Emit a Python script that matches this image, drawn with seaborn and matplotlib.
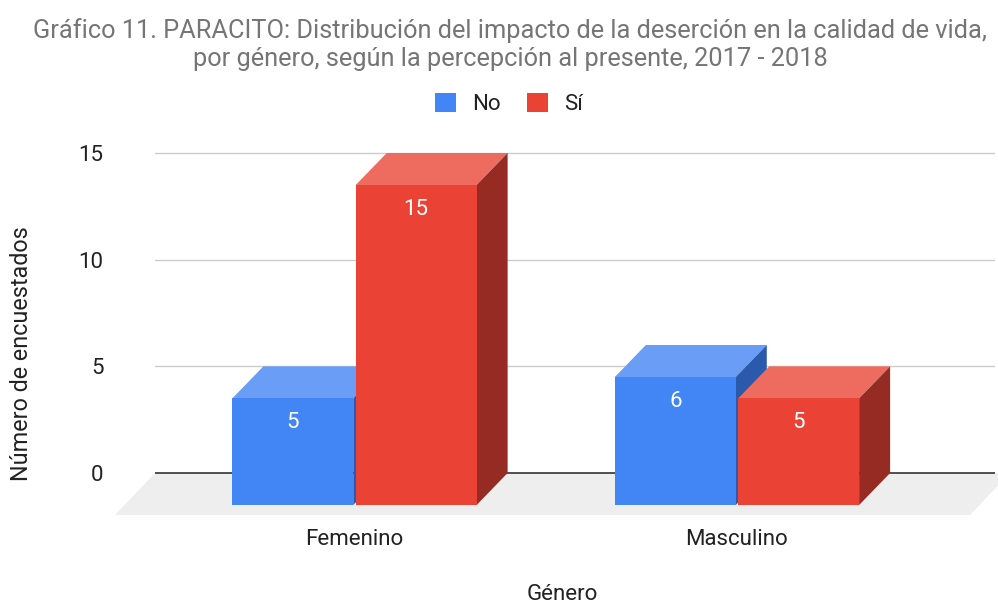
import numpy as np
import pandas as pd
import matplotlib
matplotlib.use('Agg')
import matplotlib.pyplot as plt
from matplotlib.patches import Polygon, Patch
import seaborn as sns

# --- Data ---
generos = ['Femenino', 'Masculino']
respuestas = ['No', 'Sí']
valores_no = [5, 6]
valores_si = [15, 5]
y_ticks = [0, 5, 10, 15]

colores_frente = {'No': '#4285F4', 'Sí': '#EA4335'}
colores_tapa = {'No': '#6A9DF6', 'Sí': '#EE6B60'}
colores_lado = {'No': '#2B59AB', 'Sí': '#962B23'}

df = pd.DataFrame({
    'Género': generos * 2,
    'Respuesta': ['No'] * len(generos) + ['Sí'] * len(generos),
    'Número de encuestados': valores_no + valores_si,
})

# --- Layout (pixels of a 998x603 canvas) ---
W, H = 998, 603
AX_L, AX_R, AX_T, AX_B = 155, 995, 140, 515
CAT0_PX = 354.5        # pixel of the first category (front face)
PX_X = 382.5           # pixels per category unit
PX_Y = 320 / 15        # pixels per count unit
ZERO_PX = 473
DEPTH_X = 31 / PX_X    # 3d depth of the bars
DEPTH_Y = 32 / PX_Y
FLOOR_X = 40 / PX_X
FS = 16

sns.set_style('white')
plt.rcParams['font.family'] = ['Roboto', 'DejaVu Sans']

fig = plt.figure(figsize=(W / 100, H / 100), dpi=100)
ax = fig.add_axes([AX_L / W, 1 - AX_B / H, (AX_R - AX_L) / W, (AX_B - AX_T) / H])

sns.barplot(data=df, x='Género', y='Número de encuestados', hue='Respuesta',
            hue_order=respuestas, palette=colores_frente, width=0.645, gap=0.02,
            saturation=1, legend=False, ax=ax)

x_lo = (AX_L - CAT0_PX) / PX_X
x_hi = (AX_R - CAT0_PX) / PX_X
y_lo = -(AX_B - ZERO_PX) / PX_Y
y_hi = (ZERO_PX - AX_T) / PX_Y
ax.set_xlim(x_lo, x_hi)
ax.set_ylim(y_lo, y_hi)

# floor
floor_front = (x_lo - FLOOR_X, (970 - CAT0_PX) / PX_X)
floor = Polygon([(floor_front[0], y_lo), (floor_front[1], y_lo),
                 (floor_front[1] + FLOOR_X, 0), (floor_front[0] + FLOOR_X, 0)],
                closed=True, facecolor='#EEEEEE', edgecolor='none',
                zorder=0.1, clip_on=False)
ax.add_patch(floor)

# grid lines on back wall
for t in y_ticks:
    ax.axhline(t, color='#333333' if t == 0 else '#CCCCCC', lw=1.2 if t == 0 else 1.0,
               zorder=0.5)

# turn the flat bars into 3d boxes
bars = []
for resp, cont in zip(respuestas, ax.containers):
    for bar, val in zip(cont, cont.datavalues):
        bars.append((bar.get_x(), resp, bar, val))
bars.sort(key=lambda b: b[0])

for i, (x0, resp, bar, val) in enumerate(bars):
    w = bar.get_width()
    bar.set_y(-DEPTH_Y)
    bar.set_height(val)
    bar.set_clip_on(False)
    bar.set_edgecolor('none')
    bar.set_zorder(2 + i * 0.1 + 0.05)
    top = val - DEPTH_Y
    tapa = Polygon([(x0, top), (x0 + w, top), (x0 + w + DEPTH_X, val), (x0 + DEPTH_X, val)],
                   closed=True, facecolor=colores_tapa[resp], edgecolor='none',
                   zorder=2 + i * 0.1, clip_on=False)
    lado = Polygon([(x0 + w, -DEPTH_Y), (x0 + w + DEPTH_X, 0), (x0 + w + DEPTH_X, val), (x0 + w, top)],
                   closed=True, facecolor=colores_lado[resp], edgecolor='none',
                   zorder=2 + i * 0.1, clip_on=False)
    ax.add_patch(tapa)
    ax.add_patch(lado)
    ax.annotate(f'{int(val)}', (x0 + w / 2, top), xytext=(0, -17.5), textcoords='offset points',
                ha='center', va='center', color='white', fontsize=FS, zorder=5)

sns.despine(ax=ax, left=True, bottom=True)
ax.set_yticks(y_ticks)
ax.set_yticklabels([str(t) for t in y_ticks])
ax.tick_params(axis='y', length=0, pad=37, labelsize=FS, labelcolor='#222222')
ax.tick_params(axis='x', length=0, pad=10, labelsize=FS, labelcolor='#222222')

ax.set_xlabel('Género', fontsize=FS, color='#222222', va='center')
ax.xaxis.set_label_coords((562 - AX_L) / (AX_R - AX_L), (AX_B - 594) / (AX_B - AX_T))
ax.set_ylabel('Número de encuestados', fontsize=FS + 0.8, color='#222222', va='center')
ax.yaxis.set_label_coords((21 - AX_L) / (AX_R - AX_L), (AX_B - 354) / (AX_B - AX_T))

fig.text(510 / W, 1 - 44.5 / H,
         'Gráfico 11. PARACITO: Distribución del impacto de la deserción en la calidad de vida,\n'
         'por género, según la percepción al presente, 2017 - 2018',
         ha='center', va='center', fontsize=18.3, color='#757575', linespacing=1.2)

handles = [Patch(facecolor=colores_frente[r], edgecolor='none') for r in respuestas]
fig.legend(handles, respuestas, loc='center', bbox_to_anchor=(509 / W, 1 - 104 / H),
           ncol=2, frameon=False, fontsize=FS, handlelength=0.95, handleheight=0.95,
           handletextpad=0.72, columnspacing=1.2, labelcolor='#222222')

fig.savefig('out.png', dpi=100)
